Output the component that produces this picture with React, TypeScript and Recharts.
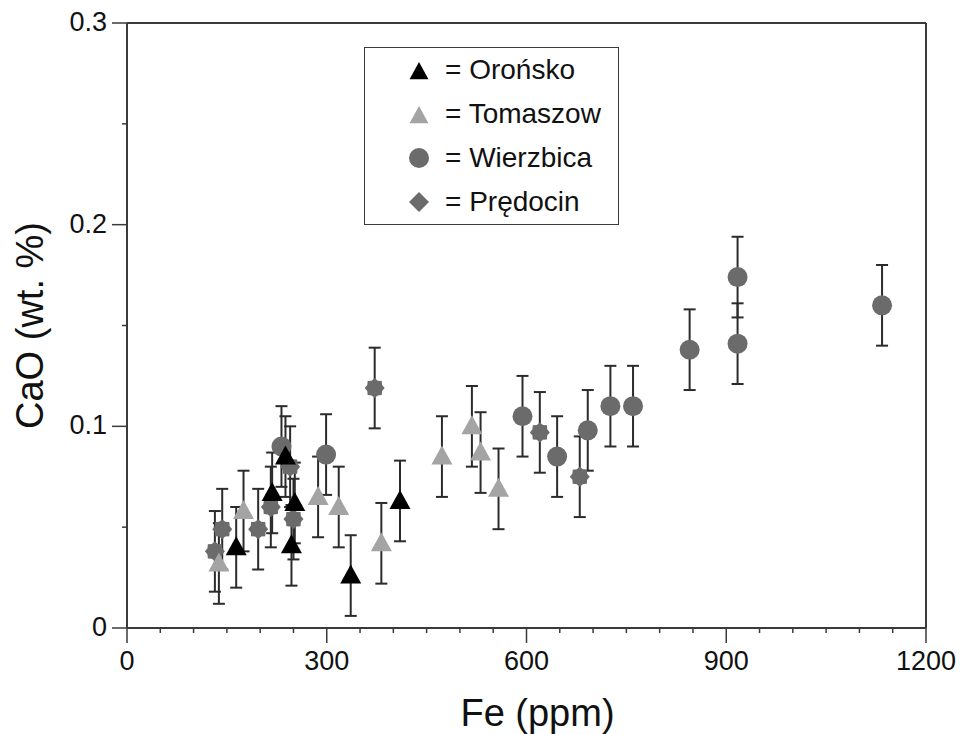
import React from 'react';
import { ScatterChart, Scatter, XAxis, YAxis, ErrorBar, ReferenceLine, Legend } from 'recharts';

const FONT = '"Liberation Sans", Arial, Helvetica, sans-serif';

// Fe (ppm) / CaO (wt. %) per site
const oronskoFe = [164, 218, 238, 247, 252, 336, 410];
const oronskoCaO = [0.04, 0.067, 0.085, 0.041, 0.062, 0.026, 0.063];

const tomaszowFe = [138, 175, 287, 318, 382, 473, 518, 531, 558];
const tomaszowCaO = [0.032, 0.058, 0.065, 0.06, 0.042, 0.085, 0.1, 0.087, 0.069];

const wierzbicaFe = [232, 299, 594, 646, 692, 726, 760, 845, 917, 917, 1134];
const wierzbicaCaO = [0.09, 0.086, 0.105, 0.085, 0.098, 0.11, 0.11, 0.138, 0.174, 0.141, 0.16];

const predocinFe = [132, 143, 197, 216, 245, 250, 372, 620, 680];
const predocinCaO = [0.038, 0.049, 0.049, 0.06, 0.08, 0.054, 0.119, 0.097, 0.075];

const ERR = 0.02;

const xMajor = [0, 300, 600, 900, 1200];
const xMinor = [50, 100, 150, 200, 250, 350, 400, 450, 500, 550, 650, 700, 750, 800, 850, 950, 1000, 1050, 1100, 1150];
const yMajor = [0, 0.1, 0.2, 0.3];
const yMinor = [0.05, 0.15, 0.25];

const toPoints = (fe: number[], cao: number[]) => fe.map((x, i) => ({ fe: x, cao: cao[i], err: ERR }));

const BLACK = '#000000';
const LIGHT = '#a4a4a4';
const GRAY = '#6b6b6b';
const AXIS = '#3a3a3a';

function Triangle({ cx, cy, fill, s = 1 }: any) {
  return <polygon points={`${cx},${cy - 11 * s} ${cx - 10.5 * s},${cy + 8 * s} ${cx + 10.5 * s},${cy + 8 * s}`} fill={fill} />;
}

function Dot({ cx, cy, fill }: any) {
  return <circle cx={cx} cy={cy} r={10} fill={fill} />;
}

function Star({ cx, cy, fill }: any) {
  const pts: string[] = [];
  for (let i = 0; i < 16; i++) {
    const r = i % 2 === 0 ? 10 : 8;
    const a = (Math.PI / 8) * i;
    pts.push(`${cx + r * Math.cos(a)},${cy + r * Math.sin(a)}`);
  }
  return <polygon points={pts.join(' ')} fill={fill} />;
}

function XTick({ x, y, payload }: any) {
  const major = xMajor.includes(payload.value);
  return (
    <g>
      <line x1={x} x2={x} y1={y} y2={y + (major ? 15 : 5)} stroke={AXIS} strokeWidth={1.5} />
      {major && (
        <text x={x} y={y + 42} textAnchor="middle" fontSize={27} fontFamily={FONT} fill="#111">
          {payload.value}
        </text>
      )}
    </g>
  );
}

function YTick({ x, y, payload }: any) {
  const major = yMajor.includes(payload.value);
  return (
    <g>
      <line x1={x} x2={x - (major ? 15 : 5)} y1={y} y2={y} stroke={AXIS} strokeWidth={1.5} />
      {major && (
        <text x={x - 20} y={y + 8} textAnchor="end" fontSize={27} fontFamily={FONT} fill="#111">
          {String(payload.value)}
        </text>
      )}
    </g>
  );
}

const legendRows = [
  { name: 'Orońsko', kind: 'tri', color: BLACK },
  { name: 'Tomaszow', kind: 'tri', color: LIGHT },
  { name: 'Wierzbica', kind: 'dot', color: GRAY },
  { name: 'Prędocin', kind: 'dia', color: GRAY },
];

function LegendBox() {
  return (
    <div style={{ width: 253, height: 176, border: `1.5px solid ${AXIS}`, background: '#fff', fontFamily: FONT }}>
      {legendRows.map((r) => (
        <div key={r.name} style={{ height: 44, display: 'flex', alignItems: 'center' }}>
          <svg width={80} height={44}>
            {r.kind === 'tri' && <Triangle cx={54} cy={24} fill={r.color} s={0.9} />}
            {r.kind === 'dot' && <circle cx={54} cy={22} r={10} fill={r.color} />}
            {r.kind === 'dia' && <polygon points="54,12 64,22 54,32 44,22" fill={r.color} />}
          </svg>
          <span style={{ fontSize: 28, color: '#111', whiteSpace: 'nowrap' }}>= {r.name}</span>
        </div>
      ))}
    </div>
  );
}

export default function App() {
  return (
    <div style={{ position: 'absolute', left: 0, top: 0, width: 961, height: 734, background: '#fff' }}>
      <ScatterChart width={961} height={734} margin={{ top: 23, right: 35, left: 0, bottom: 0 }}>
        <XAxis
          type="number"
          dataKey="fe"
          domain={[0, 1200]}
          ticks={[...xMajor, ...xMinor]}
          interval={0}
          tick={<XTick />}
          tickLine={false}
          tickSize={0}
          tickMargin={0}
          height={106}
          axisLine={{ stroke: AXIS, strokeWidth: 2 }}
          allowDataOverflow
          label={({ viewBox }: any) => (
            <text
              x={viewBox.x + viewBox.width / 2 + 11}
              y={726}
              textAnchor="middle"
              fontSize={38}
              fontFamily={FONT}
              fill="#111"
            >
              Fe (ppm)
            </text>
          )}
        />
        <YAxis
          type="number"
          dataKey="cao"
          domain={[0, 0.3]}
          ticks={[...yMajor, ...yMinor]}
          interval={0}
          tick={<YTick />}
          tickLine={false}
          tickSize={0}
          tickMargin={0}
          width={127}
          axisLine={{ stroke: AXIS, strokeWidth: 2 }}
          allowDataOverflow
          label={({ viewBox }: any) => {
            const cy = viewBox.y + viewBox.height / 2;
            return (
              <text
                x={30}
                y={cy}
                transform={`rotate(-90, 30, ${cy})`}
                textAnchor="middle"
                dominantBaseline="central"
                fontSize={38}
                fontFamily={FONT}
                fill="#111"
              >
                CaO (wt. %)
              </text>
            );
          }}
        />
        <ReferenceLine y={0.3} stroke={AXIS} strokeWidth={2} />
        <ReferenceLine x={1200} stroke={AXIS} strokeWidth={2} />
        <Legend
          layout="vertical"
          verticalAlign="middle"
          align="center"
          content={() => <LegendBox />}
          wrapperStyle={{ left: 364, top: 47, width: 256, height: 179 }}
        />
        <Scatter name="Wierzbica" data={toPoints(wierzbicaFe, wierzbicaCaO)} shape={(p: any) => <Dot {...p} fill={GRAY} />} isAnimationActive={false}>
          <ErrorBar dataKey="err" direction="y" width={6} stroke="#2b2b2b" strokeWidth={2} isAnimationActive={false} />
        </Scatter>
        <Scatter name="Prędocin" data={toPoints(predocinFe, predocinCaO)} shape={(p: any) => <Star {...p} fill={GRAY} />} isAnimationActive={false}>
          <ErrorBar dataKey="err" direction="y" width={6} stroke="#2b2b2b" strokeWidth={2} isAnimationActive={false} />
        </Scatter>
        <Scatter name="Tomaszow" data={toPoints(tomaszowFe, tomaszowCaO)} shape={(p: any) => <Triangle {...p} fill={LIGHT} />} isAnimationActive={false}>
          <ErrorBar dataKey="err" direction="y" width={6} stroke="#2b2b2b" strokeWidth={2} isAnimationActive={false} />
        </Scatter>
        <Scatter name="Orońsko" data={toPoints(oronskoFe, oronskoCaO)} shape={(p: any) => <Triangle {...p} fill={BLACK} />} isAnimationActive={false}>
          <ErrorBar dataKey="err" direction="y" width={6} stroke="#2b2b2b" strokeWidth={2} isAnimationActive={false} />
        </Scatter>
      </ScatterChart>
    </div>
  );
}
